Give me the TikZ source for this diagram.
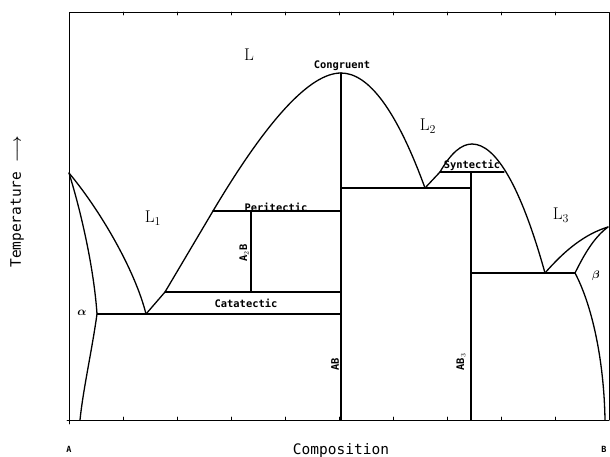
\documentclass[tikz,border=0pt]{standalone}
\usepackage{fontspec}
\newfontfamily\monof{DejaVu Sans Mono}
\tikzset{
  curve/.style={line width=1.3pt},
  frameline/.style={line width=0.8pt},
  tickline/.style={line width=0.6pt},
  tag/.style={font=\fontsize{10.4}{11}\selectfont\monof\bfseries, inner sep=0pt},
  axlab/.style={font=\fontsize{14.5}{15}\selectfont\monof, inner sep=0pt},
  phase/.style={font=\fontsize{17}{18}\selectfont, inner sep=0pt},
  greek/.style={font=\fontsize{13}{14}\selectfont\boldmath, inner sep=0pt},
  endlab/.style={font=\fontsize{8.5}{9}\selectfont\monof\bfseries, inner sep=0pt}
}
\begin{document}
\begin{tikzpicture}[x=1pt,y=-1pt,line join=round,line cap=round]
\useasboundingbox (0,0) rectangle (610,456);
% frame corners
\coordinate (O) at (69,420);
\coordinate (TL) at (69,12);
\coordinate (TR) at (609,12);
\coordinate (BR) at (609,420);
% key points
\coordinate (Amp) at (69,173);
\coordinate (Bmp) at (608,227);
\coordinate (aE) at (97,314);
\coordinate (aB) at (80,420);
\coordinate (E1) at (146,314);
\coordinate (C1) at (165,292);
\coordinate (P1) at (213,211);
\coordinate (Cg) at (341,73);
\coordinate (ABb) at (341,420);
\coordinate (A2Bt) at (251,211);
\coordinate (A2Bb) at (251,292);
\coordinate (PR) at (341,211);
\coordinate (CR) at (341,292);
\coordinate (ER) at (341,314);
\coordinate (E2) at (425,188);
\coordinate (E2L) at (341,188);
\coordinate (E2R) at (471,188);
\coordinate (S1) at (440,172);
\coordinate (S2) at (504,172);
\coordinate (Sp) at (472,144);
\coordinate (AB3t) at (471,172);
\coordinate (AB3b) at (471,420);
\coordinate (E3) at (545,273);
\coordinate (E3L) at (471,273);
\coordinate (bE) at (575,273);
\coordinate (bB) at (605,420);

% frame
\draw[frameline] (O) -- (TL) -- (TR) -- (BR);
\draw[frameline] (67,420) -- (BR);
\foreach \i in {1,...,9}{
  \draw[tickline] (69+54*\i,420) -- (69+54*\i,417);
  \draw[tickline] (69+54*\i,12) -- (69+54*\i,15);
}
\draw[tickline] (69,420) -- (69,424);

% alpha solvus
\draw[curve] (Amp) .. controls (82,215) and (94,270) .. (aE)
  .. controls (92,350) and (83,390) .. (aB);
% L1 liquidus
\draw[curve] (Amp) .. controls (100,210) and (135,270) .. (E1);
\draw[curve] (E1) -- (C1) -- (P1);
% congruent dome
\draw[curve] (P1) .. controls (267.7,119) and (310.3,73) .. (Cg);
\draw[curve] (Cg) .. controls (369,73) and (397,111.3) .. (E2);
% syntectic dome
\draw[curve] (E2) -- (S1);
\draw[curve] (S1) .. controls (450.7,153.3) and (461.3,144) .. (Sp);
\draw[curve] (Sp) .. controls (496,144) and (521,187) .. (E3);
% L3 and beta
\draw[curve] (E3) .. controls (565,250) and (585,234) .. (Bmp);
\draw[curve] (bE) .. controls (583,257) and (593,238) .. (Bmp);
\draw[curve] (bE) .. controls (592,305) and (604,360) .. (bB);

% horizontals
\draw[curve] (aE) -- (ER);
\draw[curve] (C1) -- (CR);
\draw[curve] (P1) -- (PR);
\draw[curve] (E2L) -- (E2R);
\draw[curve] (S1) -- (S2);
\draw[curve] (E3L) -- (bE);
% verticals
\draw[curve] (Cg) -- (ABb);
\draw[curve] (A2Bt) -- (A2Bb);
\draw[curve] (AB3t) -- (AB3b);

% labels
\node[phase] (lL) at (249,55) {L};
\node[phase] (lL1) at (153,218) {L$_1$};
\node[phase] (lL2) at (428,126) {L$_2$};
\node[phase] (lL3) at (561,215) {L$_3$};
\node[greek] (lal) at (82,313) {$\alpha$};
\node[greek,font=\fontsize{10.5}{11}\selectfont\boldmath] (lbe) at (596,276) {$\beta$};
\node[tag] (lcg) at (342,66) {Congruent};
\node[tag] (lsy) at (472,165) {Syntectic};
\node[tag] (lpe) at (276,207) {Peritectic};
\node[tag] (lca) at (246,303) {Catatectic};
\node[tag,rotate=90] (la2b) at (244,253) {A$_2$B};
\node[tag,rotate=90] (lab) at (335,364) {AB};
\node[tag,rotate=90] (lab3) at (461,362) {AB$_3$};
\node[axlab] (lcomp) at (341,450) {Composition};
\node[axlab,rotate=90] (ltemp) at (17,202) {Temperature {\boldmath$\longrightarrow$}};
\node[endlab] (lA) at (69,449) {A};
\node[endlab] (lB) at (604,449) {B};
\end{tikzpicture}
\end{document}
